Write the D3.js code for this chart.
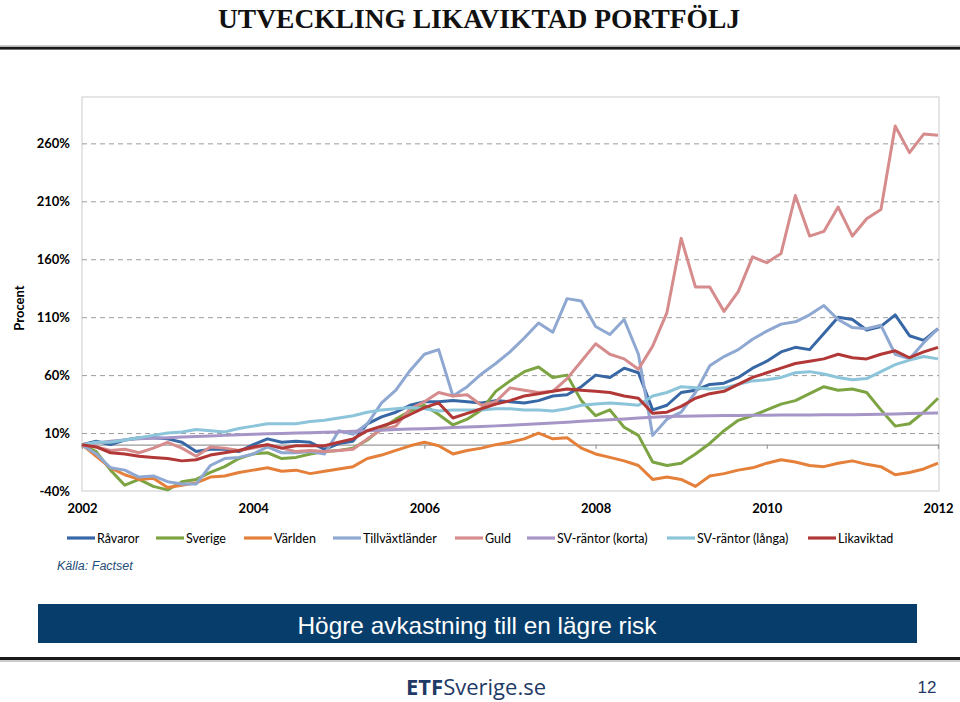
<!DOCTYPE html>
<html><head><meta charset="utf-8">
<script src="https://cdn.jsdelivr.net/npm/d3@7"></script>
<style>
html,body{margin:0;padding:0;background:#fff;}
svg{display:block;}
</style></head>
<body>
<svg id="chart" width="960" height="702"></svg>
<script>
// ---- data (percent change since start of 2002; 2-month steps) ----
const startYear = 2002, endYear = 2012, stepsPerYear = 6;
const yearTicks = [2002, 2004, 2006, 2008, 2010, 2012];
const percentTicks = [-40, 10, 60, 110, 160, 210, 260];
const seriesNames = ["Råvaror","Sverige","Världen","Tillväxtländer","Guld","SV-räntor (korta)","SV-räntor (långa)","Likaviktad"];
const seriesColors = ["#3867a6","#7da443","#e5803a","#8fa8d2","#d68c8c","#a696c7","#8cc4da","#b23838"];

const raavaror = [0,3,0,4,6,6,5,2,-6,-4, -4,-6,0,5,2,3,2,-4,1,3, 18,24,28,34,37,37,38,37,36,38, 37,36,38,42,43,50,60,58,66,62, 30,34,45,47,52,53,58,66,72,80, 84,82,96,110,108,99,102,112,94,90, 100];
const sverige = [0,-6,-22,-35,-30,-36,-39,-32,-30,-24, -19,-12,-8,-7,-12,-11,-8,-6,-5,-3, 4,14,22,29,34,26,17,22,30,46, 55,63,67,58,60,38,25,30,15,8, -15,-18,-16,-8,1,12,21,25,30,35, 38,44,50,47,48,45,30,16,18,28, 40];
const varlden = [0,-10,-20,-26,-30,-29,-37,-35,-33,-28, -27,-24,-22,-20,-23,-22,-25,-23,-21,-19, -12,-9,-5,-1,2,-1,-8,-5,-3,0, 2,5,10,5,6,-3,-8,-11,-14,-18, -30,-28,-30,-36,-27,-25,-22,-20,-16,-13, -15,-18,-19,-16,-14,-17,-19,-26,-24,-21, -16];
const tillvaxt = [0,-8,-20,-22,-28,-27,-32,-34,-34,-18, -12,-11,-8,-2,-7,-7,-6,-8,12,9, 18,36,47,64,78,82,42,50,61,70, 80,92,105,97,126,124,102,95,108,78, 8,22,28,45,68,76,82,91,98,104, 106,112,120,108,101,100,103,78,74,88, 100];
const guld = [0,-2,-5,-4,-7,-3,2,-3,-10,-2, -3,-5,-3,0,-3,-6,-5,-6,-5,-4, 5,13,16,31,37,45,42,43,34,37, 49,47,45,46,57,72,87,78,74,65, 85,114,178,136,136,115,132,162,157,165, 215,180,184,205,180,195,203,275,252,268, 267];
const svKorta = [0,1.5,3,4,5,5.5,6,6.5,7,7.5, 8,8.5,9,9.3,9.6,10,10.3,10.7,11,11.5, 12,12.5,13,13.4,13.8,14.2,14.7,15.2,15.7,16.2, 16.7,17.3,18,18.7,19.4,20.1,20.8,21.5,22.2,23, 23.7,24.2,24.6,24.8,25,25.1,25.2,25.3,25.4,25.5, 25.5,25.6,25.7,25.8,25.9,26,26.2,26.5,26.8,27.1, 27.4];
const svLanga = [0,2,2,4,6,8,10,11,13,12, 11,14,16,18,18,18,20,21,23,25, 28,30,31,32,31,29,30,30,30,31, 31,30,30,29,31,34,35,36,35,34, 42,45,50,49,48,49,52,55,56,58, 62,63,61,58,56,57,63,69,73,76, 74];
const likaviktad = [0,-2,-7,-8,-10,-11,-12,-14,-13,-9, -7,-5,-2,0,-3,-1,-1,-1,2,5, 12,16,20,26,32,36,23,27,31,35, 38,42,44,46,48,47,46,45,42,40, 27,28,33,40,44,46,52,58,62,66, 70,72,74,78,75,74,78,81,75,80, 84];

const seriesValues = [raavaror, sverige, varlden, tillvaxt, guld, svKorta, svLanga, likaviktad];
const dates = d3.range(raavaror.length).map(i => startYear + i / stepsPerYear);

// ---- drawing ----
const svg = d3.select("#chart");
const L = 82, R = 939, T = 97, B = 491;
const x = d3.scaleLinear().domain([startYear, endYear]).range([L, 938]);
const y = d3.scaleLinear().domain([-40, 300]).range([B, T]);
const lab = "Lato, 'Open Sans', 'DejaVu Sans', sans-serif";

// title
svg.append("text").attr("x", 479).attr("y", 28).attr("text-anchor", "middle")
  .attr("font-family", "'Liberation Serif', 'DejaVu Serif', serif").attr("font-weight", "bold")
  .attr("font-size", 27).attr("textLength", 522).attr("lengthAdjust", "spacingAndGlyphs")
  .attr("fill", "#111").text("UTVECKLING LIKAVIKTAD PORTFÖLJ");
svg.append("rect").attr("x", 0).attr("y", 45.5).attr("width", 960).attr("height", 1.2).attr("fill", "#9a9a9a");
svg.append("rect").attr("x", 0).attr("y", 47).attr("width", 960).attr("height", 2.6).attr("fill", "#1a1a1a");

// plot border
svg.append("rect").attr("x", L).attr("y", T).attr("width", R - L).attr("height", B - T)
  .attr("fill", "none").attr("stroke", "#d4d4d4").attr("stroke-width", 1.2);

// gridlines
const grid = svg.append("g").attr("transform", `translate(${L},0)`)
  .call(d3.axisLeft(y).tickValues(percentTicks.filter(v => v > -40)).tickSize(-(R - L)).tickFormat(""));
grid.select(".domain").remove();
grid.selectAll("line").attr("stroke", "#9c9c9c").attr("stroke-dasharray", "5,4").attr("stroke-width", 1);

// y labels
const ya = svg.append("g").attr("transform", `translate(${L},0)`)
  .call(d3.axisLeft(y).tickValues(percentTicks).tickSize(0).tickPadding(12).tickFormat(d => d + "%"));
ya.select(".domain").remove();
ya.selectAll("text").attr("font-family", lab).attr("font-weight", "bold").attr("font-size", 13).attr("fill", "#000");

// zero axis line with ticks
const za = svg.append("g").attr("transform", `translate(0,${y(0)})`)
  .call(d3.axisBottom(x).tickValues(yearTicks).tickSize(4).tickFormat(""));
za.selectAll("path,line").attr("stroke", "#9a9a9a").attr("stroke-width", 1.2);

// x labels
const xa = svg.append("g").attr("transform", `translate(0,${B})`)
  .call(d3.axisBottom(x).tickValues(yearTicks).tickSize(0).tickPadding(13).tickFormat(d3.format("d")));
xa.select(".domain").remove();
xa.selectAll("text").attr("font-family", lab).attr("font-weight", "bold").attr("font-size", 13).attr("fill", "#000");

// y axis title
svg.append("text").attr("transform", "translate(24,308) rotate(-90)").attr("text-anchor", "middle")
  .attr("font-family", lab).attr("font-weight", "bold").attr("font-size", 13).attr("fill", "#000").text("Procent");

// series
const line = d3.line().x((d, i) => x(dates[i])).y(d => y(d)).curve(d3.curveLinear);
const lines = svg.append("g");
seriesValues.forEach((vals, k) => {
  lines.append("path").datum(vals).attr("d", line).attr("fill", "none")
    .attr("stroke", seriesColors[k]).attr("stroke-width", 3).attr("stroke-linejoin", "round");
});

// legend
const legendX = [67, 156, 244, 333, 455, 527, 667, 808];
const lg = svg.append("g");
seriesNames.forEach((n, k) => {
  lg.append("line").attr("x1", legendX[k]).attr("x2", legendX[k] + 28).attr("y1", 538).attr("y2", 538)
    .attr("stroke", seriesColors[k]).attr("stroke-width", 3.2);
  lg.append("text").attr("x", legendX[k] + 30).attr("y", 543).attr("font-family", lab)
    .attr("font-size", 12.5).attr("fill", "#000").text(n);
});

// source
svg.append("text").attr("x", 57).attr("y", 570).attr("font-family", "'Liberation Sans', Arial, sans-serif")
  .attr("font-style", "italic").attr("font-size", 12.5).attr("fill", "#1f4e79").text("Källa: Factset");

// banner
svg.append("rect").attr("x", 38).attr("y", 604).attr("width", 879).attr("height", 39).attr("fill", "#063d6b");
svg.append("text").attr("x", 477).attr("y", 634).attr("text-anchor", "middle")
  .attr("font-family", "'Liberation Sans Narrow', 'Liberation Sans', Arial, sans-serif")
  .attr("font-size", 24).attr("textLength", 359).attr("lengthAdjust", "spacingAndGlyphs")
  .attr("fill", "#fff").text("Högre avkastning till en lägre risk");

// bottom rule
svg.append("rect").attr("x", 0).attr("y", 657).attr("width", 960).attr("height", 3).attr("fill", "#1a1a1a");
svg.append("rect").attr("x", 0).attr("y", 660.5).attr("width", 960).attr("height", 1).attr("fill", "#9a9a9a");

// logo
const logo = svg.append("text").attr("x", 476).attr("y", 695).attr("text-anchor", "middle")
  .attr("font-family", "'Open Sans', 'Noto Sans', sans-serif").attr("font-size", 22).attr("fill", "#1f3a66");
logo.append("tspan").attr("font-weight", "bold").text("ETF");
logo.append("tspan").text("Sverige.se");

// page number
svg.append("text").attr("x", 927).attr("y", 693).attr("text-anchor", "middle")
  .attr("font-family", "'Liberation Sans Narrow', 'Liberation Sans', Arial, sans-serif")
  .attr("font-size", 17).attr("fill", "#1f3a66").text("12");
</script>
</body></html>
